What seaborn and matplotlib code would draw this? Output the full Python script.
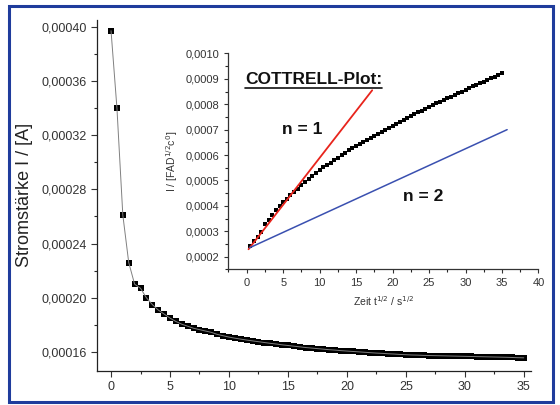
import numpy as np
import matplotlib
matplotlib.use('Agg')
import matplotlib.pyplot as plt
import seaborn as sns
from matplotlib.ticker import MultipleLocator
from matplotlib.lines import Line2D
from matplotlib.patches import Rectangle

# Hauptdiagramm: Strom gegen Zeit
zeit = np.arange(0, 35.5, 0.5)
strom_e6 = [397, 340, 261, 226, 210, 207, 200, 195, 191, 188,
            185, 182.5, 180.5, 179, 177.5, 176.5, 175.5, 174.5, 173, 172,
            171, 170.2, 169.5, 168.8, 168.2, 167.6, 167.0, 166.4, 165.9, 165.3,
            164.8, 164.3, 163.8, 163.3, 162.9, 162.5, 162.1, 161.7, 161.4, 161.0,
            160.7, 160.4, 160.1, 159.8, 159.5, 159.2, 159.0, 158.7, 158.5, 158.2,
            158.0, 157.8, 157.7, 157.5, 157.4, 157.3, 157.2, 157.1, 157.0, 156.9,
            156.8, 156.7, 156.6, 156.5, 156.4, 156.3, 156.2, 156.1, 155.95, 155.8,
            155.7]
strom = np.array(strom_e6) * 1e-6

# Inset: Cottrell-Plot
cot_x = np.arange(0.5, 35.5, 0.5)
cot_y_e4 = [2.40, 2.61, 2.77, 2.97, 3.27, 3.46, 3.65, 3.82, 3.99,
            4.14, 4.28, 4.42, 4.55, 4.68, 4.81, 4.93, 5.06, 5.18, 5.30,
            5.41, 5.51, 5.61, 5.70, 5.80, 5.89, 5.99, 6.08, 6.18, 6.27,
            6.36, 6.44, 6.52, 6.60, 6.68, 6.76, 6.84, 6.92, 7.00, 7.08,
            7.16, 7.23, 7.31, 7.38, 7.46, 7.53, 7.60, 7.68, 7.75, 7.83,
            7.90, 7.97, 8.03, 8.10, 8.17, 8.23, 8.30, 8.37, 8.44, 8.50,
            8.57, 8.63, 8.70, 8.76, 8.83, 8.89, 8.96, 9.02, 9.09, 9.15,
            9.22]
cot_y = np.array(cot_y_e4) * 1e-4

# Geraden n = 1 und n = 2
n1_x = [0.25, 17.2]
n1_y = [0.000229, 0.000855]
n2_x = [0.4, 35.7]
n2_y = [0.000235, 0.000700]

haupt_yticks = [0.00016, 0.00020, 0.00024, 0.00028, 0.00032, 0.00036, 0.00040]
haupt_ylabels = ['0,00016', '0,00020', '0,00024', '0,00028', '0,00032', '0,00036', '0,00040']
inset_yticks = [0.0002, 0.0003, 0.0004, 0.0005, 0.0006, 0.0007, 0.0008, 0.0009, 0.0010]
inset_ylabels = ['0,0002', '0,0003', '0,0004', '0,0005', '0,0006', '0,0007', '0,0008', '0,0009', '0,0010']

sns.set_theme(style='ticks')
plt.rcParams['font.family'] = ['Liberation Sans', 'DejaVu Sans']
plt.rcParams['xtick.direction'] = 'out'
plt.rcParams['ytick.direction'] = 'out'

fig = plt.figure(figsize=(5.6, 4.05), dpi=100)
fig.patch.set_facecolor('white')

# Hauptachsen
ax = fig.add_axes([0.173, 0.084, 0.775, 0.867])
sns.lineplot(x=zeit, y=strom, ax=ax, color='#808080', linewidth=0.7)
sns.scatterplot(x=zeit, y=strom, ax=ax, marker='s', s=22, color='black',
                edgecolor='black', linewidth=0)
ax.set_xlim(-1.2, 35.6)
ax.set_ylim(0.000146, 0.000405)
ax.set_xticks([0, 5, 10, 15, 20, 25, 30, 35])
ax.xaxis.set_minor_locator(MultipleLocator(2.5))
ax.set_yticks(haupt_yticks)
ax.set_yticklabels(haupt_ylabels)
ax.yaxis.set_minor_locator(MultipleLocator(0.00002))
ax.set_ylabel('Stromstärke I / [A]', fontsize=13, color='#222222', labelpad=6)
ax.tick_params(labelsize=9, colors='#333333', length=4, width=0.8)
ax.tick_params(which='minor', length=2.5, width=0.8)
sns.despine(ax=ax)
for sp in ['left', 'bottom']:
    ax.spines[sp].set_linewidth(0.9)
    ax.spines[sp].set_color('#222222')

# Inset
ins = fig.add_axes([0.408, 0.335, 0.5536, 0.533])
ins.patch.set_alpha(0)
sns.lineplot(x=n1_x, y=n1_y, ax=ins, color='#e8241c', linewidth=1.3)
sns.lineplot(x=n2_x, y=n2_y, ax=ins, color='#3a50b0', linewidth=1.1)
sns.scatterplot(x=cot_x, y=cot_y, ax=ins, marker='s', s=8, color='black',
                edgecolor='black', linewidth=0)
ins.set_xlim(-2.5, 40)
ins.set_ylim(0.00015, 0.0010)
ins.set_xticks([0, 5, 10, 15, 20, 25, 30, 35, 40])
ins.xaxis.set_minor_locator(MultipleLocator(2.5))
ins.set_yticks(inset_yticks)
ins.set_yticklabels(inset_ylabels)
ins.yaxis.set_minor_locator(MultipleLocator(0.00005))
ins.set_xlabel('Zeit t$^{1/2}$ / s$^{1/2}$', fontsize=7.5, color='#333333')
ins.set_ylabel('I / [FAD$^{1/2}$c$^{0}$]', fontsize=7.5, color='#333333')
ins.tick_params(labelsize=8, colors='#333333', length=3, width=0.8)
ins.tick_params(which='minor', length=2, width=0.8)
sns.despine(ax=ins)
for sp in ['left', 'bottom']:
    ins.spines[sp].set_linewidth(0.9)
    ins.spines[sp].set_color('#333333')

titel = ins.text(-0.2, 0.000896, 'COTTRELL-Plot:', fontsize=12.5, fontweight='bold',
                 ha='left', va='center', color='#111111')
ins.text(7.6, 0.000699, 'n = 1', fontsize=12.5, fontweight='bold',
         ha='center', va='center', color='#111111')
ins.text(24.25, 0.000435, 'n = 2', fontsize=12.5, fontweight='bold',
         ha='center', va='center', color='#111111')

# Unterstreichung
fig.canvas.draw()
bb = titel.get_window_extent().transformed(fig.transFigure.inverted())
fig.add_artist(Line2D([bb.x0, bb.x1], [bb.y0 - 0.002, bb.y0 - 0.002],
                      color='#111111', linewidth=1.2, transform=fig.transFigure))

# blauer Rahmen
fig.add_artist(Rectangle((9 / 560, 3 / 405), 544 / 560, 396 / 405, fill=False,
                         edgecolor='#1f3c9c', linewidth=2.2, transform=fig.transFigure))

fig.savefig('out.png', dpi=100)
